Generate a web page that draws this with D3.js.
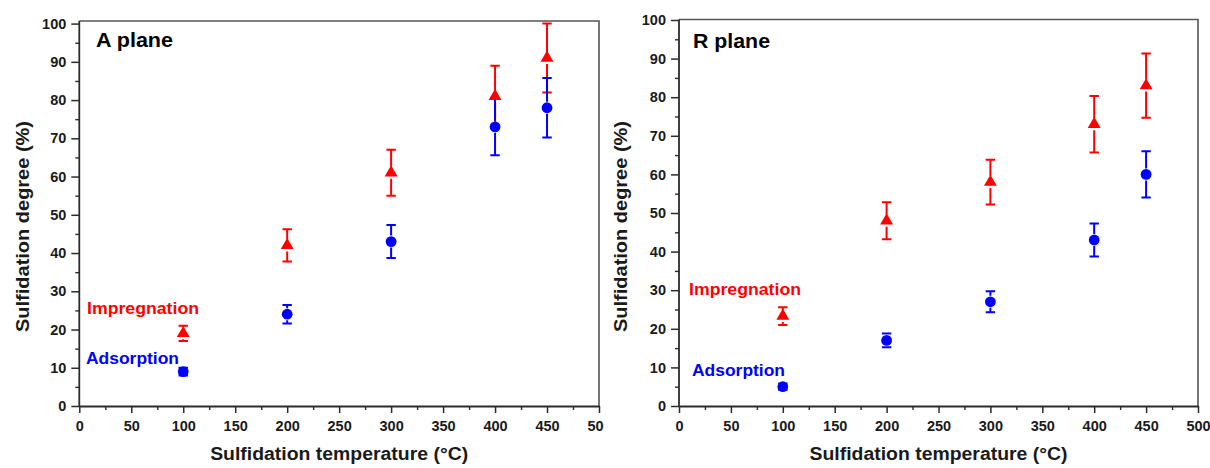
<!DOCTYPE html>
<html>
<head>
<meta charset="utf-8">
<script src="https://cdn.jsdelivr.net/npm/d3@7"></script>
<style>
  html, body { margin: 0; padding: 0; background: #fff; }
  svg { display: block; }
  text { font-family: "Liberation Sans", Arial, sans-serif; font-weight: bold; }
</style>
</head>
<body>
<script>
// ---- data ----
const temperatures = [100, 200, 300, 400, 450];

const aImpregnation    = [19, 42, 61, 81, 91];
const aImpregnationErr = [2, 4.2, 6, 8, 9];
const aAdsorption      = [9, 24, 43, 73, 78];
const aAdsorptionErr   = [1, 2.4, 4.3, 7.4, 7.8];

const rImpregnation    = [23.3, 48, 58, 73, 83];
const rImpregnationErr = [2.3, 4.8, 5.8, 7.3, 8.3];
const rAdsorption      = [5, 17, 27, 43, 60];
const rAdsorptionErr   = [0.8, 1.8, 2.7, 4.3, 6];

const xTicks = [0, 50, 100, 150, 200, 250, 300, 350, 400, 450, 500];
const xMinorTicks = [25, 75, 125, 175, 225, 275, 325, 375, 425, 475];
const yTicks = [0, 10, 20, 30, 40, 50, 60, 70, 80, 90, 100];
const yMinorTicks = [5, 15, 25, 35, 45, 55, 65, 75, 85, 95];

const panelNames = ["A plane", "R plane"];
const seriesNames = ["Impregnation", "Adsorption"];
const xTitle = "Sulfidation temperature (°C)";
const yTitle = "Sulfidation degree (%)";

// ---- layout ----
const RED = "#ff0000", BLUE = "#0000ff", AXIS = "#2b2b2b", FRAME = "#555";
const layouts = [
  { x0: 79.3, x1: 599, y0: 406, y1: 23.6, frameTop: 21, clipRight: 604,
    titleX: 96, titleY: 47, impLab: [87, 314], adsLab: [86, 364], yTitleX: 29 },
  { x0: 679, x1: 1198, y0: 406, y1: 20, frameTop: 19.5, clipRight: 1210,
    titleX: 693, titleY: 48, impLab: [689, 295], adsLab: [692, 376], yTitleX: 627 }
];
const panelData = [
  { imp: aImpregnation, impErr: aImpregnationErr, ads: aAdsorption, adsErr: aAdsorptionErr },
  { imp: rImpregnation, impErr: rImpregnationErr, ads: rAdsorption, adsErr: rAdsorptionErr }
];

const svg = d3.select("body").append("svg")
  .attr("width", 1210).attr("height", 468);

const defs = svg.append("defs");

layouts.forEach((L, i) => {
  const D = panelData[i];
  defs.append("clipPath").attr("id", "clip" + i)
    .append("rect").attr("x", L.x0 - 90).attr("y", 0)
    .attr("width", L.clipRight - (L.x0 - 90)).attr("height", 468);

  const g = svg.append("g").attr("clip-path", `url(#clip${i})`);

  const x = d3.scaleLinear().domain([0, 500]).range([L.x0, L.x1]);
  const y = d3.scaleLinear().domain([0, 100]).range([L.y0, L.y1]);

  // frame (top and right)
  g.append("path")
    .attr("d", `M${L.x0},${L.frameTop}H${L.x1}V${L.y0}`)
    .attr("fill", "none").attr("stroke", FRAME).attr("stroke-width", 1.6);

  // minor ticks
  const xMinor = g.append("g").attr("transform", `translate(0,${L.y0})`)
    .call(d3.axisBottom(x).tickValues(xMinorTicks).tickSize(4).tickFormat(""));
  const yMinor = g.append("g").attr("transform", `translate(${L.x0},0)`)
    .call(d3.axisLeft(y).tickValues(yMinorTicks).tickSize(4).tickFormat(""));
  [xMinor, yMinor].forEach(a => {
    a.select(".domain").remove();
    a.selectAll("line").attr("stroke", AXIS).attr("stroke-width", 1.4);
  });

  // major axes
  const xAxis = g.append("g").attr("transform", `translate(0,${L.y0})`)
    .call(d3.axisBottom(x).tickValues(xTicks).tickSize(7).tickPadding(8).tickSizeOuter(0));
  const yAxis = g.append("g").attr("transform", `translate(${L.x0},0)`)
    .call(d3.axisLeft(y).tickValues(yTicks).tickSize(8).tickPadding(5).tickSizeOuter(0));
  [xAxis, yAxis].forEach(a => {
    a.select(".domain").attr("stroke", AXIS).attr("stroke-width", 1.8);
    a.selectAll("line").attr("stroke", AXIS).attr("stroke-width", 1.5);
    a.selectAll("text").attr("font-size", 14.5).attr("fill", "#1a1a1a")
      .attr("font-family", "'Liberation Sans', Arial, sans-serif").attr("font-weight", "bold");
  });
  // extend y domain to the frame top
  yAxis.select(".domain").attr("d", `M0,${L.y0}V${L.frameTop}`);

  // axis titles
  svg.append("text")
    .attr("x", (L.x0 + L.x1) / 2).attr("y", 460)
    .attr("text-anchor", "middle").attr("font-size", 18).attr("fill", "#1a1a1a")
    .attr("textLength", 258).attr("lengthAdjust", "spacingAndGlyphs")
    .text(xTitle);
  svg.append("text")
    .attr("transform", `translate(${L.yTitleX},226.5) rotate(-90)`)
    .attr("text-anchor", "middle").attr("font-size", 18).attr("fill", "#1a1a1a")
    .attr("textLength", 211).attr("lengthAdjust", "spacingAndGlyphs")
    .text(yTitle);

  // panel label
  g.append("text")
    .attr("x", L.titleX).attr("y", L.titleY)
    .attr("font-family", "'Open Sans', 'Noto Sans', sans-serif")
    .attr("font-size", 21).attr("fill", "#000")
    .attr("textLength", 77).attr("lengthAdjust", "spacingAndGlyphs")
    .text(panelNames[i]);

  // series labels
  g.append("text").attr("x", L.impLab[0]).attr("y", L.impLab[1])
    .attr("font-size", 16).attr("fill", RED)
    .attr("textLength", 112).attr("lengthAdjust", "spacingAndGlyphs")
    .text(seriesNames[0]);
  g.append("text").attr("x", L.adsLab[0]).attr("y", L.adsLab[1])
    .attr("font-size", 16).attr("fill", BLUE)
    .attr("textLength", 93).attr("lengthAdjust", "spacingAndGlyphs")
    .text(seriesNames[1]);

  const GAP = 6, CAP = 4.7;
  function errorBars(vals, errs, color) {
    const eg = g.append("g").attr("stroke", color).attr("stroke-width", 2).attr("fill", "none");
    temperatures.forEach((t, k) => {
      const cx = x(t), cy = y(vals[k]);
      const yt = y(vals[k] + errs[k]), yb = y(vals[k] - errs[k]);
      let d = `M${cx - CAP},${yt}H${cx + CAP}M${cx - CAP},${yb}H${cx + CAP}`;
      if (cy - GAP > yt) d += `M${cx},${yt}V${cy - GAP}`;
      if (cy + GAP < yb) d += `M${cx},${cy + GAP}V${yb}`;
      eg.append("path").attr("d", d);
    });
  }
  errorBars(D.imp, D.impErr, RED);
  errorBars(D.ads, D.adsErr, BLUE);

  // adsorption circles
  g.append("g").selectAll("circle").data(temperatures).join("circle")
    .attr("cx", t => x(t)).attr("cy", (t, k) => y(D.ads[k]))
    .attr("r", 5.4).attr("fill", BLUE);

  // impregnation triangles
  const tri = d3.symbol().type(d3.symbolTriangle).size(72);
  g.append("g").selectAll("path").data(temperatures).join("path")
    .attr("d", tri)
    .attr("transform", (t, k) => `translate(${x(t)},${y(D.imp[k])})`)
    .attr("fill", RED);
});
</script>
</body>
</html>
